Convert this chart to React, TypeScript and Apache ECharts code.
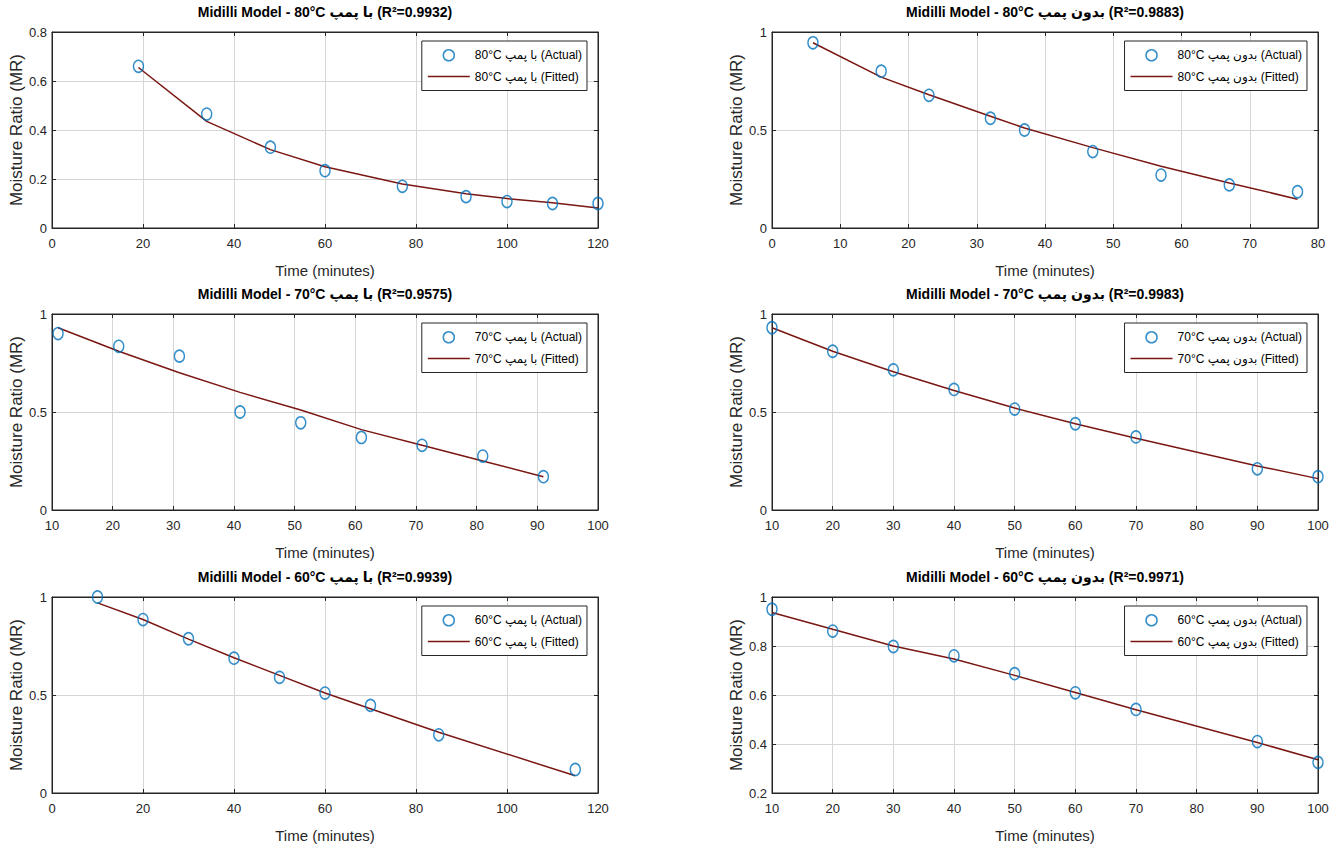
import React, { useEffect, useRef } from "react";
import * as echarts from "echarts";

// ---------- data ----------
const panelTitles = [
  "Midilli Model - 80°C با پمپ (R²=0.9932)",
  "Midilli Model - 80°C بدون پمپ (R²=0.9883)",
  "Midilli Model - 70°C با پمپ (R²=0.9575)",
  "Midilli Model - 70°C بدون پمپ (R²=0.9983)",
  "Midilli Model - 60°C با پمپ (R²=0.9939)",
  "Midilli Model - 60°C بدون پمپ (R²=0.9971)",
];
const seriesLabels = [
  "80°C با پمپ",
  "80°C بدون پمپ",
  "70°C با پمپ",
  "70°C بدون پمپ",
  "60°C با پمپ",
  "60°C بدون پمپ",
];

const time80Pump = [19, 34, 48, 60, 77, 91, 100, 110, 120];
const actual80Pump = [0.66, 0.465, 0.33, 0.234, 0.17, 0.128, 0.108, 0.1, 0.1];
const fitted80Pump = [0.655, 0.435, 0.32, 0.25, 0.18, 0.14, 0.12, 0.103, 0.082];

const time80NoPump = [6, 16, 23, 32, 37, 47, 57, 67, 77];
const actual80NoPump = [0.945, 0.8, 0.677, 0.56, 0.5, 0.39, 0.27, 0.22, 0.185];
const fitted80NoPump = [0.945, 0.77, 0.68, 0.57, 0.51, 0.41, 0.315, 0.23, 0.147];

const time70Pump = [11, 21, 31, 41, 51, 61, 71, 81, 91];
const actual70Pump = [0.9, 0.835, 0.785, 0.5, 0.445, 0.37, 0.33, 0.275, 0.17];
const fitted70Pump = [0.93, 0.81, 0.7, 0.6, 0.51, 0.41, 0.33, 0.25, 0.17];

const time70NoPump = [10, 20, 30, 40, 50, 60, 70, 90, 100];
const actual70NoPump = [0.93, 0.81, 0.715, 0.615, 0.515, 0.44, 0.373, 0.21, 0.17];
const fitted70NoPump = [0.93, 0.81, 0.705, 0.61, 0.52, 0.44, 0.366, 0.225, 0.16];

const time60Pump = [10, 20, 30, 40, 50, 60, 70, 85, 115];
const actual60Pump = [1.0, 0.885, 0.787, 0.688, 0.59, 0.51, 0.447, 0.297, 0.12];
const fitted60Pump = [0.97, 0.885, 0.785, 0.69, 0.6, 0.51, 0.43, 0.31, 0.088];

const time60NoPump = [10, 20, 30, 40, 50, 60, 70, 90, 100];
const actual60NoPump = [0.95, 0.861, 0.798, 0.76, 0.687, 0.609, 0.541, 0.41, 0.325];
const fitted60NoPump = [0.937, 0.868, 0.8, 0.747, 0.68, 0.61, 0.54, 0.406, 0.336];

const times = [time80Pump, time80NoPump, time70Pump, time70NoPump, time60Pump, time60NoPump];
const actuals = [actual80Pump, actual80NoPump, actual70Pump, actual70NoPump, actual60Pump, actual60NoPump];
const fitteds = [fitted80Pump, fitted80NoPump, fitted70Pump, fitted70NoPump, fitted60Pump, fitted60NoPump];

// axis ranges [min, max, interval]
const xRanges = [
  [0, 120, 20],
  [0, 80, 10],
  [10, 100, 10],
  [10, 100, 10],
  [0, 120, 20],
  [10, 100, 10],
];
const yRanges = [
  [0, 0.8, 0.2],
  [0, 1, 0.5],
  [0, 1, 0.5],
  [0, 1, 0.5],
  [0, 1, 0.5],
  [0.2, 1, 0.2],
];

const xAxisTitle = "Time (minutes)";
const yAxisTitle = "Moisture Ratio (MR)";

// ---------- layout / style ----------
const W = 1342;
const H = 852;
const gridLefts = [52, 772];
const gridTops = [32, 314, 597];
const gridW = 546;
const gridH = 196;
const FONT = '"Liberation Sans", Arial, "DejaVu Sans", sans-serif';
const AXIS_COLOR = "#262626";
const GRID_COLOR = "#d6d6d6";
const MARKER_COLOR = "#0072BD";
const LINE_COLOR = "#7A1712";
const LINE_ICON = "path://M0,0 L42,0 L42,1.5 L0,1.5 Z";

export default function App() {
  const ref = useRef<HTMLDivElement>(null);

  useEffect(() => {
    if (!ref.current) return;
    const chart = echarts.init(ref.current, null, { renderer: "svg" });

    const grids: any[] = [];
    const xAxes: any[] = [];
    const yAxes: any[] = [];
    const series: any[] = [];
    const legends: any[] = [];
    const graphics: any[] = [];

    for (let i = 0; i < 6; i++) {
      const col = i % 2;
      const row = Math.floor(i / 2);
      const left = gridLefts[col];
      const top = gridTops[row];
      grids.push({
        left,
        top,
        width: gridW,
        height: gridH,
        show: true,
        borderColor: AXIS_COLOR,
        borderWidth: 1,
        backgroundColor: "#fff",
      });
      const [xmin, xmax, xint] = xRanges[i];
      const [ymin, ymax, yint] = yRanges[i];
      const tick = { show: true, inside: true, length: 4, lineStyle: { color: AXIS_COLOR } };
      xAxes.push({
        gridIndex: i,
        type: "value",
        position: "bottom",
        min: xmin,
        max: xmax,
        interval: xint,
        axisLine: { show: true, onZero: false, lineStyle: { color: AXIS_COLOR } },
        axisTick: tick,
        axisLabel: { fontSize: 13, color: AXIS_COLOR, fontFamily: FONT, margin: 9 },
        splitLine: { show: true, lineStyle: { color: GRID_COLOR, width: 1 } },
        name: xAxisTitle,
        nameLocation: "middle",
        nameGap: 35,
        nameTextStyle: { fontSize: 15, color: AXIS_COLOR, fontFamily: FONT },
      });
      xAxes.push({
        gridIndex: i,
        type: "value",
        position: "top",
        min: xmin,
        max: xmax,
        interval: xint,
        axisLine: { show: true, onZero: false, lineStyle: { color: AXIS_COLOR } },
        axisTick: tick,
        axisLabel: { show: false },
        splitLine: { show: false },
      });
      yAxes.push({
        gridIndex: i,
        type: "value",
        position: "left",
        min: ymin,
        max: ymax,
        interval: yint,
        axisLine: { show: true, onZero: false, lineStyle: { color: AXIS_COLOR } },
        axisTick: tick,
        axisLabel: { fontSize: 13, color: AXIS_COLOR, fontFamily: FONT, margin: 5 },
        splitLine: { show: true, lineStyle: { color: GRID_COLOR, width: 1 } },
        name: yAxisTitle,
        nameLocation: "middle",
        nameGap: 27,
        nameTextStyle: { fontSize: 17, color: AXIS_COLOR, fontFamily: FONT },
      });
      yAxes.push({
        gridIndex: i,
        type: "value",
        position: "right",
        min: ymin,
        max: ymax,
        interval: yint,
        axisLine: { show: true, onZero: false, lineStyle: { color: AXIS_COLOR } },
        axisTick: tick,
        axisLabel: { show: false },
        splitLine: { show: false },
      });

      const actualName = seriesLabels[i] + " (Actual)";
      const fittedName = seriesLabels[i] + " (Fitted)";
      series.push({
        type: "line",
        name: fittedName,
        xAxisIndex: 2 * i,
        yAxisIndex: 2 * i,
        data: times[i].map((t, k) => [t, fitteds[i][k]]),
        symbol: "none",
        showSymbol: false,
        lineStyle: { color: LINE_COLOR, width: 1.5 },
        itemStyle: { color: LINE_COLOR },
        z: 3,
      });
      series.push({
        type: "scatter",
        name: actualName,
        xAxisIndex: 2 * i,
        yAxisIndex: 2 * i,
        data: times[i].map((t, k) => [t, actuals[i][k]]),
        symbol: "circle",
        symbolSize: [10, 12],
        itemStyle: { color: "rgba(0,0,0,0)", borderColor: MARKER_COLOR, borderWidth: 1.5 },
        z: 4,
      });

      legends.push({
        orient: "vertical",
        right: W - (left + gridW) + 11,
        top: top + 9,
        backgroundColor: "#fff",
        borderColor: AXIS_COLOR,
        borderWidth: 1,
        padding: [8, 5, 8, 6],
        itemGap: 9,
        itemWidth: 42,
        itemHeight: 11,
        textStyle: { fontSize: 12, color: "#000", fontFamily: FONT },
        selectedMode: false,
        data: [
          {
            name: actualName,
            icon: "circle",
            itemStyle: { color: "rgba(0,0,0,0)", borderColor: MARKER_COLOR, borderWidth: 1.5 },
          },
          {
            name: fittedName,
            icon: LINE_ICON,
            itemStyle: { color: LINE_COLOR, borderWidth: 0 },
          },
        ],
      });

      graphics.push({
        type: "text",
        x: left + gridW / 2,
        y: top - 20,
        style: {
          text: panelTitles[i],
          align: "center",
          verticalAlign: "middle",
          fontSize: 14,
          fontWeight: "bold",
          fontFamily: FONT,
          fill: "#000",
        },
      });
    }

    chart.setOption({
      animation: false,
      backgroundColor: "#fff",
      grid: grids,
      xAxis: xAxes,
      yAxis: yAxes,
      series,
      legend: legends,
      graphic: graphics,
    });

    return () => chart.dispose();
  }, []);

  return (
    <div
      ref={ref}
      style={{ position: "absolute", left: 0, top: 0, width: W, height: H, background: "#fff" }}
    />
  );
}
